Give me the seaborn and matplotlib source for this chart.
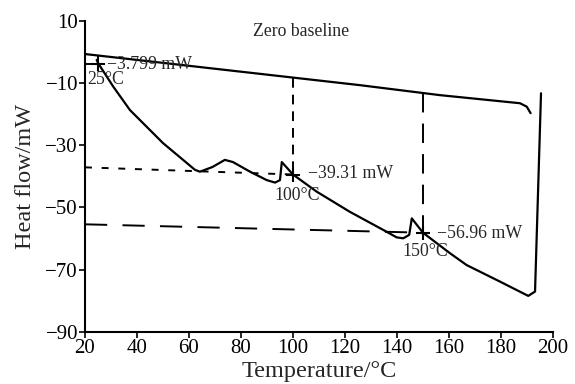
import matplotlib
matplotlib.use("Agg")
import matplotlib.pyplot as plt
import seaborn as sns
import pandas as pd

# ---- data ----
curve_t = [24.5, 25.1, 30.9, 37.3, 50.0, 62.3, 64.2, 69.0, 73.8, 76.9, 83.5, 89.9, 93.1, 95.0,
           95.7, 100.0, 109.1, 121.9, 134.7, 139.9, 142.4, 144.7, 145.7, 150.0, 160.4, 166.8,
           179.6, 188.6, 190.5, 193.1, 195.4]
curve_hf = [-2.6, -3.7, -11.2, -18.7, -29.3, -37.9, -38.5, -37.0, -34.7, -35.4, -38.5, -41.2, -42.0, -41.2,
            -35.4, -39.4, -44.9, -51.4, -57.2, -59.6, -59.9, -58.8, -53.5, -58.1, -64.7, -68.5,
            -73.8, -77.6, -78.4, -77.0, -13.3]
base_t = [20.0, 125.8, 156.5, 187.3, 189.9, 191.4]
base_hf = [-0.7, -10.7, -13.9, -16.5, -17.6, -19.7]

mark_t = [25, 100, 150]
mark_hf = [-3.8, -39.4, -58.1]
mark_base = [-1.2, -8.3, -13.2]
mark_axis = [-3.8, -37.1, -55.4]
mark_labels = ["\u22123.799 mW", "\u221239.31 mW", "\u221256.96 mW"]
temp_labels = ["25\u00b0C", "100\u00b0C", "150\u00b0C"]

x_ticks = list(range(20, 201, 20))
y_ticks = [10, -10, -30, -50, -70, -90]

sns.set_theme(style="ticks")
plt.rcParams["font.family"] = ["Liberation Serif", "DejaVu Serif"]
plt.rcParams["lines.scale_dashes"] = False

fig = plt.figure(figsize=(5.75, 3.84), dpi=100)
ax = fig.add_axes([0.1478, 0.1354, 0.8139, 0.8106])

df_curve = pd.DataFrame({"t": curve_t, "hf": curve_hf})
df_base = pd.DataFrame({"t": base_t, "hf": base_hf})
sns.lineplot(data=df_curve, x="t", y="hf", sort=False, estimator=None, color="black", lw=1.6, ax=ax)
sns.lineplot(data=df_base, x="t", y="hf", sort=False, estimator=None, color="black", lw=1.6, ax=ax)

# reference lines
styles_h = ["-", (0, (5, 7)), (0, (16, 11))]
styles_v = ["-", (0, (7, 5)), (0, (14, 8))]
for i in range(3):
    ax.plot([20, mark_t[i]], [mark_axis[i], mark_hf[i]], color="black", lw=1.4, linestyle=styles_h[i])
    ax.plot([mark_t[i], mark_t[i]], [mark_base[i], mark_hf[i]], color="black", lw=1.4, linestyle=styles_v[i])
sns.scatterplot(x=mark_t, y=mark_hf, marker="+", s=90, color="black", linewidth=1.5, ax=ax, zorder=5)

# annotations
fs = 12.8
ax.text(28.5, mark_hf[0] - 0.2, mark_labels[0], fontsize=fs, va="center", ha="left")
ax.text(20.8, mark_hf[0] - 5.2, temp_labels[0], fontsize=fs, va="center", ha="left")
ax.text(105.8, mark_hf[1] + 0.3, mark_labels[1], fontsize=fs, va="center", ha="left")
ax.text(101.5, -46.1, temp_labels[1], fontsize=fs, va="center", ha="center")
ax.text(155.3, mark_hf[2] - 0.2, mark_labels[2], fontsize=fs, va="center", ha="left")
ax.text(151.0, -64.2, temp_labels[2], fontsize=fs, va="center", ha="center")
ax.text(103, 6.4, "Zero baseline", fontsize=fs, va="center", ha="center")

ax.set_xlim(20, 200)
ax.set_ylim(-90, 10)
ax.set_xticks(x_ticks)
ax.set_yticks(y_ticks)
ax.set_xlabel("Temperature/\u00b0C", fontsize=17.5, labelpad=2)
ax.set_ylabel("Heat flow/mW", fontsize=17.5, labelpad=7)
ax.tick_params(axis="both", labelsize=15, length=4, width=1.2, direction="out", pad=1, colors="black")
for s in ["left", "bottom"]:
    ax.spines[s].set_linewidth(1.5)
    ax.spines[s].set_color("black")
sns.despine(ax=ax)
ax.grid(False)

fig.savefig("out.png", dpi=100, facecolor="white")
